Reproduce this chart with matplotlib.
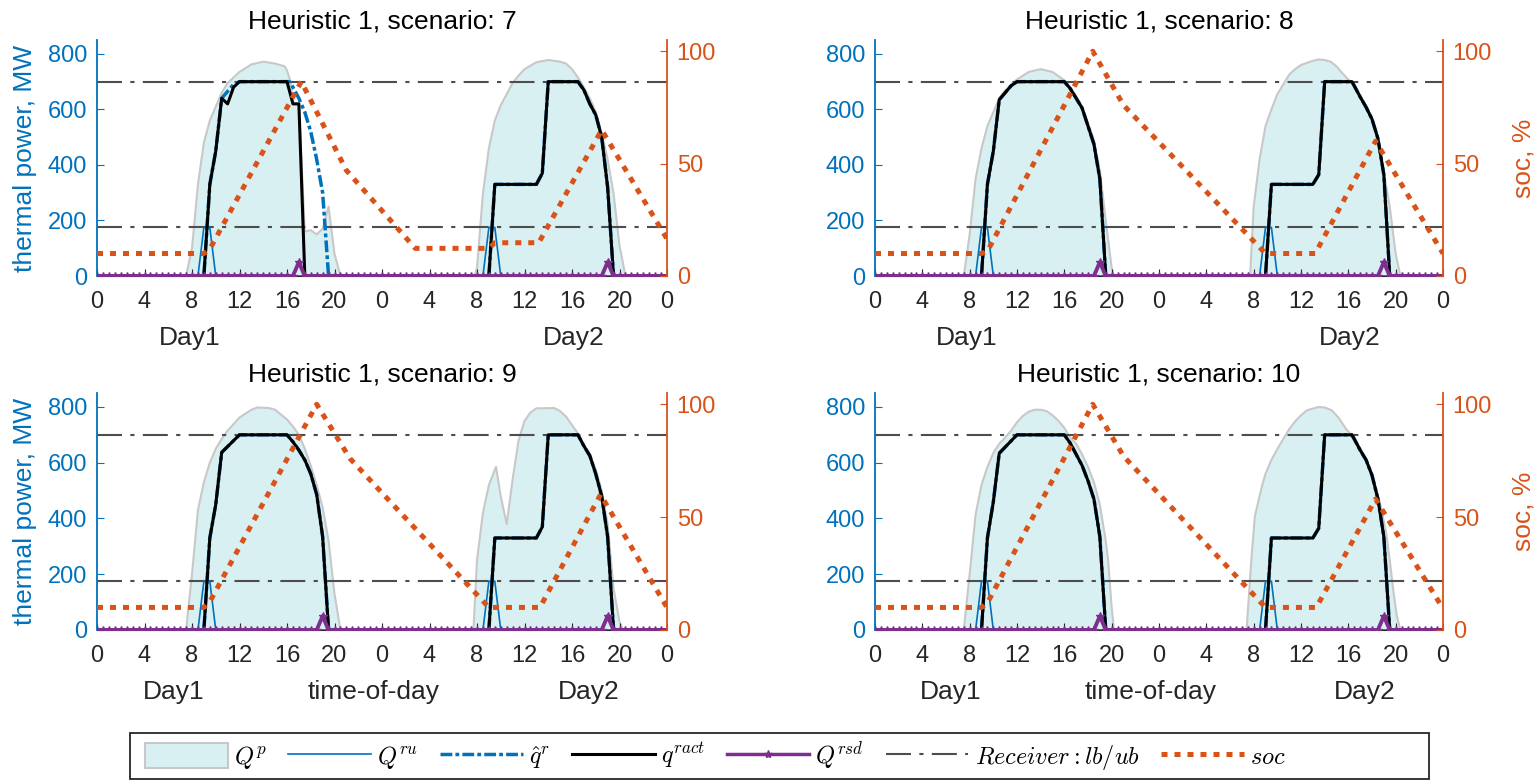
import numpy as np
import matplotlib
matplotlib.use('Agg')
import matplotlib.pyplot as plt
from matplotlib.patches import Patch, Rectangle
from matplotlib.lines import Line2D

plt.rcParams['font.family'] = ['Liberation Sans', 'DejaVu Sans']
plt.rcParams['mathtext.fontset'] = 'cm'

# ---------------- data (hours on a 0..48 h two-day axis, MW, %) ----------------
scenarios = [7, 8, 9, 10]
x_ticks = [0, 4, 8, 12, 16, 20, 24, 28, 32, 36, 40, 44, 48]
x_tick_labels = ['0', '4', '8', '12', '16', '20', '0', '4', '8', '12', '16', '20', '0']
power_ticks = [0, 200, 400, 600, 800]
soc_ticks = [0, 50, 100]
receiver_lb = 175
receiver_ub = 700
step_hours = np.arange(0, 48.01, 0.5)          # 30-min time steps

# receiver start-up power (same in all scenarios)
qru_t = [0, 8.5, 9.0, 9.5, 10.0, 32.5, 33.0, 33.5, 34.0, 48]
qru_mw = [0, 0, 175, 175, 0, 0, 175, 175, 0, 0]

# receiver shut-down events
rsd_hours = {7: [17.0, 43.0], 8: [19.0, 43.0], 9: [19.0, 43.0], 10: [19.0, 43.0]}
rsd_mw = 50

# ---- scenario 7 ----
qp7_t = [0, 7.5, 8.0, 8.5, 9.0, 9.5, 10.0, 10.5, 11.0, 12.0, 13.0, 14.0, 15.0, 15.8, 16.0, 16.3, 16.5,
         17.0, 17.5, 18.0, 18.5, 19.0, 19.5, 20.0, 20.5,
         31.8, 32.0, 32.5, 33.0, 33.5, 34.0, 34.5, 35.0, 35.5, 36.0, 37.0, 38.0, 39.0, 39.5, 40.0,
         40.5, 41.0, 41.5, 42.0, 42.5, 43.0, 43.5, 44.0, 44.5, 48]
qp7_mw = [0, 0, 100, 330, 480, 560, 610, 660, 695, 735, 762, 772, 765, 755, 740, 700, 620,
          620, 160, 165, 150, 170, 250, 80, 0,
          0, 30, 297, 460, 560, 615, 655, 695, 722, 745, 770, 778, 772, 765, 745,
          715, 680, 640, 590, 515, 420, 297, 110, 0, 0]
qract7_t = [0, 9.0, 9.5, 10.0, 10.5, 11.0, 11.5, 12.0, 16.0, 16.5, 17.0, 17.5,
            33.0, 33.5, 37.0, 37.5, 38.0, 40.5, 41.0, 41.5, 42.0, 42.5, 43.0, 43.5, 48]
qract7_mw = [0, 0, 330, 450, 640, 620, 680, 700, 700, 620, 620, 0,
             0, 330, 330, 370, 700, 700, 670, 620, 580, 500, 320, 0, 0]
qhat7_t = [0, 9.0, 9.5, 10.0, 10.5, 11.0, 11.5, 12.0, 16.2, 16.5, 17.0, 17.5, 18.0, 18.5, 19.0, 19.5,
           33.0, 33.5, 37.0, 37.5, 38.0, 40.5, 41.0, 41.5, 42.0, 42.5, 43.0, 43.5, 48]
qhat7_mw = [0, 0, 330, 450, 640, 665, 690, 700, 700, 680, 640, 590, 520, 420, 300, 0,
            0, 330, 330, 370, 700, 700, 670, 620, 580, 500, 320, 0, 0]
soc7_t = [0, 9.0, 9.5, 17.2, 21.0, 26.8, 33.0, 33.5, 37.2, 42.5, 48]
soc7_pct = [10, 10, 12, 86.5, 47, 12.3, 12.3, 14.8, 14.8, 65, 16.5]

# ---- scenario 8 ----
qp8_t = [0, 7.5, 8.0, 8.5, 9.0, 9.5, 10.0, 10.5, 11.0, 11.5, 12.0, 13.0, 14.0, 15.0, 16.0, 16.5,
         17.0, 17.5, 18.0, 18.5, 19.0, 19.5, 20.0, 20.2,
         31.7, 32.0, 32.5, 33.0, 33.5, 34.0, 34.5, 35.0, 35.5, 36.0, 37.0, 37.5, 38.0, 38.5, 39.0,
         39.5, 40.0, 40.5, 41.0, 41.5, 42.0, 42.5, 43.0, 43.5, 44.0, 44.4, 48]
qp8_mw = [0, 0, 150, 350, 460, 540, 590, 640, 668, 690, 708, 735, 745, 735, 705, 680,
          648, 610, 550, 490, 380, 200, 30, 0,
          0, 250, 420, 540, 600, 655, 690, 725, 745, 760, 775, 780, 778, 772, 755,
          730, 708, 688, 650, 612, 568, 500, 375, 250, 80, 0, 0]
qract8_t = [0, 9.0, 9.5, 10.0, 10.5, 11.0, 11.5, 12.0, 16.0, 16.5, 17.0, 17.5, 18.0, 18.5, 19.0, 19.5,
            33.0, 33.5, 37.0, 37.5, 38.0, 40.3, 40.5, 41.0, 41.5, 42.0, 42.5, 43.0, 43.5, 48]
qract8_mw = [0, 0, 330, 450, 635, 660, 685, 700, 700, 675, 640, 605, 540, 475, 350, 0,
             0, 330, 330, 365, 700, 700, 685, 645, 608, 565, 495, 365, 0, 0]
qhat8_t = qract8_t
qhat8_mw = qract8_mw
soc8_t = [0, 9.0, 9.5, 18.4, 21.0, 33.0, 37.2, 42.3, 48]
soc8_pct = [10, 10, 11, 100, 76, 10, 10, 60, 10]

# ---- scenario 9 ----
qp9_t = [0, 7.5, 8.0, 8.5, 9.0, 9.5, 10.0, 10.5, 11.0, 12.0, 13.0, 13.5, 14.5, 15.0, 16.0, 16.5,
         17.0, 17.5, 18.0, 18.5, 19.0, 19.5, 20.0, 20.5,
         31.7, 32.0, 32.5, 33.0, 33.6, 34.0, 34.5, 35.0, 35.5, 36.0, 36.5, 37.0, 38.5, 39.0, 39.5,
         40.0, 40.5, 41.0, 41.5, 42.0, 42.5, 43.0, 43.5, 44.0, 44.3, 48]
qp9_mw = [0, 0, 200, 430, 530, 600, 650, 685, 715, 762, 790, 798, 796, 790, 755, 730,
          700, 650, 590, 520, 440, 320, 130, 0,
          0, 250, 420, 520, 585, 480, 380, 540, 680, 750, 780, 795, 796, 785, 765,
          735, 705, 665, 630, 575, 500, 380, 150, 30, 0, 0]
qract9_t = [0, 9.0, 9.5, 10.0, 10.5, 12.0, 16.0, 16.5, 17.0, 17.5, 18.0, 18.5, 19.0, 19.5,
            33.0, 33.5, 37.0, 37.5, 38.0, 40.5, 41.0, 41.5, 42.0, 42.5, 43.0, 43.5, 48]
qract9_mw = [0, 0, 330, 450, 637, 700, 700, 675, 645, 610, 560, 486, 335, 0,
             0, 330, 330, 370, 700, 700, 660, 625, 560, 480, 335, 0, 0]
qhat9_t = qract9_t
qhat9_mw = qract9_mw
soc9_t = [0, 9.0, 9.5, 18.5, 21.3, 33.0, 37.3, 42.4, 48]
soc9_pct = [10, 10, 12.5, 100, 76, 10, 10, 60, 10]

# ---- scenario 10 ----
qp10_t = [0, 7.5, 8.0, 8.5, 9.0, 9.5, 10.0, 10.5, 11.0, 11.5, 12.0, 12.5, 13.0, 13.5, 14.0, 14.5,
          15.0, 15.5, 16.0, 16.5, 17.0, 17.5, 18.0, 18.5, 19.0, 19.5, 19.7, 20.0, 20.2,
          31.4, 31.8, 32.1, 32.7, 33.0, 33.5, 34.0, 34.5, 35.0, 35.5, 36.0, 36.5, 37.5, 38.0, 38.6,
          39.2, 39.8, 40.5, 41.1, 41.5, 42.0, 42.3, 42.7, 43.2, 43.5, 43.8, 44.1, 44.4, 48]
qp10_mw = [0, 0, 200, 414, 520, 585, 635, 668, 690, 715, 745, 768, 783, 790, 790, 785,
           770, 750, 725, 690, 668, 630, 585, 530, 450, 320, 250, 80, 0,
           0, 250, 408, 516, 560, 610, 649, 685, 720, 748, 770, 788, 800, 798, 788,
           760, 721, 690, 645, 612, 560, 516, 450, 347, 250, 142, 50, 0, 0]
qract10_t = [0, 9.0, 9.5, 10.0, 10.5, 12.0, 16.0, 16.5, 17.0, 17.5, 18.0, 18.5, 19.0, 19.5,
             33.0, 33.5, 37.0, 37.5, 38.0, 40.3, 40.5, 41.0, 41.5, 42.0, 42.5, 43.0, 43.5, 48]
qract10_mw = [0, 0, 330, 460, 634, 700, 700, 670, 630, 590, 535, 470, 335, 0,
              0, 330, 330, 365, 700, 700, 685, 645, 610, 555, 470, 335, 0, 0]
qhat10_t = qract10_t
qhat10_mw = qract10_mw
soc10_t = [0, 9.0, 9.5, 18.4, 21.0, 33.0, 37.3, 42.3, 48]
soc10_pct = [10, 10, 12, 100, 77, 10, 10, 58, 9.5]

panel_data = {
    7: (qp7_t, qp7_mw, qract7_t, qract7_mw, qhat7_t, qhat7_mw, soc7_t, soc7_pct),
    8: (qp8_t, qp8_mw, qract8_t, qract8_mw, qhat8_t, qhat8_mw, soc8_t, soc8_pct),
    9: (qp9_t, qp9_mw, qract9_t, qract9_mw, qhat9_t, qhat9_mw, soc9_t, soc9_pct),
    10: (qp10_t, qp10_mw, qract10_t, qract10_mw, qhat10_t, qhat10_mw, soc10_t, soc10_pct),
}

# ---------------- styling ----------------
W, H, DPI = 1540, 782, 100
BLUE = '#0072BD'
ORANGE = '#D95319'
PURPLE = '#7E2F8E'
FILL = '#D9F0F3'
EDGE = '#C8C8C8'
GRAY = '#4D4D4D'
TXT = '#262626'
QHAT_LS = (0, (3.4, 0.9, 1.1, 0.9))
LBUB_LS = (0, (12, 4, 2, 4))
SOC_LS = (0, (1.2, 1.4))

positions = {
    7: [97 / W, 1 - 276 / H, 570 / W, 236 / H],
    8: [875 / W, 1 - 276 / H, 568 / W, 236 / H],
    9: [97 / W, 1 - 630 / H, 570 / W, 237 / H],
    10: [875 / W, 1 - 630 / H, 568 / W, 237 / H],
}

fig = plt.figure(figsize=(W / DPI, H / DPI), dpi=DPI)

for s in scenarios:
    qp_t, qp_mw, qa_t, qa_mw, qh_t, qh_mw, soc_t, soc_pct = panel_data[s]
    ax = fig.add_axes(positions[s])
    ax.fill_between(qp_t, qp_mw, 0, facecolor=FILL, edgecolor='none', zorder=1)
    ax.plot(qp_t, qp_mw, color=EDGE, lw=1.5, zorder=1.5)
    ax.axhline(receiver_ub, color=GRAY, lw=1.5, ls=LBUB_LS, zorder=2)
    ax.axhline(receiver_lb, color=GRAY, lw=1.5, ls=LBUB_LS, zorder=2)
    ax.plot(qru_t, qru_mw, color=BLUE, lw=1.2, zorder=3)
    ax.plot(qh_t, qh_mw, color=BLUE, lw=2.5, ls=QHAT_LS, zorder=3.5)
    ax.plot(qa_t, qa_mw, color='black', lw=2.2, zorder=4)
    rsd = np.where(np.isin(step_hours, rsd_hours[s]), rsd_mw, 0)
    ax.plot(step_hours, rsd, color=PURPLE, lw=2.8, marker='*', ms=6, zorder=5)

    ax.set_xlim(0, 48)
    ax.set_ylim(0, 850)
    ax.set_xticks(x_ticks)
    ax.set_xticklabels(x_tick_labels)
    ax.set_yticks(power_ticks)
    ax.tick_params(axis='x', colors=TXT, direction='in', length=5, labelsize=17, pad=11)
    ax.tick_params(axis='y', colors=BLUE, direction='in', length=5, labelsize=17, pad=7)
    ax.spines['top'].set_visible(False)
    ax.spines['right'].set_visible(False)
    ax.spines['left'].set_color(BLUE)
    ax.spines['left'].set_linewidth(1.3)
    ax.spines['bottom'].set_color(TXT)

    ax2 = ax.twinx()
    ax2.plot(soc_t, soc_pct, color=ORANGE, lw=3.6, ls=SOC_LS)
    ax2.set_ylim(0, 105)
    ax2.set_yticks(soc_ticks)
    ax2.tick_params(axis='y', colors=ORANGE, direction='in', length=5, labelsize=17, pad=7)
    for k in ('top', 'left', 'bottom'):
        ax2.spines[k].set_visible(False)
    ax2.spines['right'].set_color(ORANGE)
    ax2.spines['right'].set_linewidth(1.3)

    ax.set_title(f'Heuristic 1, scenario: {s}', fontsize=19, pad=8.4, color='black')

    bottom_row = s in (9, 10)
    if bottom_row:
        ax.text(0.134, -0.262, 'Day1', transform=ax.transAxes, ha='center', va='center', fontsize=19, color=TXT)
        ax.text(0.486, -0.262, 'time-of-day', transform=ax.transAxes, ha='center', va='center', fontsize=19, color=TXT)
        ax.text(0.862, -0.262, 'Day2', transform=ax.transAxes, ha='center', va='center', fontsize=19, color=TXT)
    else:
        ax.text(0.162, -0.263, 'Day1', transform=ax.transAxes, ha='center', va='center', fontsize=19, color=TXT)
        ax.text(0.836, -0.263, 'Day2', transform=ax.transAxes, ha='center', va='center', fontsize=19, color=TXT)

    if s in (7, 9):
        ax.text(-72 / 570, 0.5, 'thermal power, MW', transform=ax.transAxes, rotation=90,
                ha='center', va='center', fontsize=19, color=BLUE)
    else:
        ax.text(1.141, 0.5, 'soc, %', transform=ax.transAxes, rotation=90,
                ha='center', va='center', fontsize=19, color=ORANGE)

# ---------------- legend ----------------
handles = [
    Patch(facecolor=FILL, edgecolor=EDGE, lw=1.5),
    Line2D([], [], color=BLUE, lw=1.2),
    Line2D([], [], color=BLUE, lw=2.5, ls=QHAT_LS),
    Line2D([], [], color='black', lw=2.2),
    Line2D([], [], color=PURPLE, lw=2.5, marker='*', ms=6),
    Line2D([], [], color=GRAY, lw=1.5, ls=LBUB_LS),
    Line2D([], [], color=ORANGE, lw=3.6, ls=SOC_LS),
]
labels = [r'$Q^p$', r'$Q^{ru}$', r'$\hat{q}^r$', r'$q^{ract}$', r'$Q^{rsd}$',
          r'$Receiver : lb/ub$', r'$soc$']
fig.add_artist(Rectangle((130 / W, 1 - 779 / H), 1299 / W, 46 / H, transform=fig.transFigure,
                         facecolor='white', edgecolor=TXT, lw=1.3, zorder=0))
fig.legend(handles, labels, loc='center left', bbox_to_anchor=(145 / W, 1 - 756 / H), ncol=7,
           frameon=False, fontsize=17.5, handlelength=3.4, handletextpad=0.25, columnspacing=0.9,
           handleheight=1.2, borderpad=0, borderaxespad=0, numpoints=1)

fig.savefig('out.png', dpi=DPI)
